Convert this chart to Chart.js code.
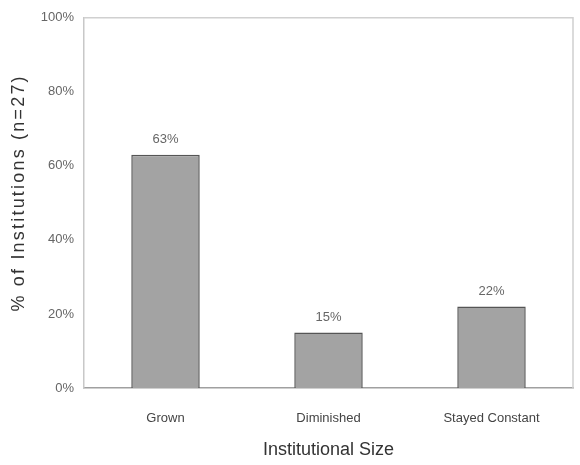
<!DOCTYPE html>
<html>
<head>
<meta charset="utf-8">
<script src="https://cdn.jsdelivr.net/npm/chart.js@4/dist/chart.umd.min.js"></script>
<style>
  html, body { margin: 0; padding: 0; background: #fff; }
  #wrap { width: 580px; height: 465px; position: relative; }
</style>
</head>
<body>
<div id="wrap"><canvas id="c" width="580" height="465"></canvas></div>
<script>
// Share of institutions by change in institutional size
const categories = ['Grown', 'Diminished', 'Stayed Constant'];
const percentValues = [63, 15, 22];
const yTicks = [0, 20, 40, 60, 80, 100];
const yTitle = '% of Institutions (n=27)';
const xTitle = 'Institutional Size';

const FONT = '"Liberation Sans", Arial, sans-serif';

// Value labels above each bar, placed from the bar elements
const valueLabels = {
  id: 'valueLabels',
  afterDatasetsDraw(chart) {
    const ctx = chart.ctx;
    const meta = chart.getDatasetMeta(0);
    ctx.save();
    ctx.font = '13px ' + FONT;
    ctx.fillStyle = '#666';
    ctx.textAlign = 'center';
    ctx.textBaseline = 'bottom';
    meta.data.forEach((bar, i) => {
      ctx.fillText(percentValues[i] + '%', bar.x, bar.y - 9);
    });
    ctx.restore();
  }
};

// Light frame around the plotting area
const plotFrame = {
  id: 'plotFrame',
  beforeDatasetsDraw(chart) {
    const { ctx, chartArea: a } = chart;
    ctx.save();
    ctx.strokeStyle = '#d0d0d0';
    ctx.lineWidth = 1.5;
    ctx.beginPath();
    ctx.moveTo(a.left, a.top);
    ctx.lineTo(a.right, a.top);
    ctx.lineTo(a.right, a.bottom);
    ctx.stroke();
    ctx.restore();
  }
};

// Widely spaced vertical axis title
const spacedYTitle = {
  id: 'spacedYTitle',
  afterDraw(chart) {
    const { ctx, chartArea: a } = chart;
    ctx.save();
    ctx.translate(19, (a.top + a.bottom) / 2 - 10);
    ctx.rotate(-Math.PI / 2);
    ctx.font = '18px ' + FONT;
    ctx.letterSpacing = '2.2px';
    ctx.fillStyle = '#333';
    ctx.textAlign = 'center';
    ctx.textBaseline = 'middle';
    ctx.fillText(yTitle, 0, 0);
    ctx.restore();
  }
};

new Chart(document.getElementById('c'), {
  type: 'bar',
  data: {
    labels: categories,
    datasets: [{
      data: percentValues,
      backgroundColor: '#a3a3a3',
      borderColor: '#555555',
      borderWidth: 1.5,
      categoryPercentage: 1,
      barPercentage: 0.42
    }]
  },
  options: {
    responsive: false,
    animation: false,
    layout: { padding: { left: 0, top: 12, right: 7, bottom: 0 } },
    plugins: { legend: { display: false }, tooltip: { enabled: false } },
    scales: {
      x: {
        grid: { display: false, drawTicks: false },
        border: { color: '#a0a0a0', width: 1.5 },
        ticks: { font: { family: FONT, size: 13 }, color: '#444', padding: 23 },
        title: {
          display: true,
          text: xTitle,
          font: { family: FONT, size: 18 },
          color: '#333',
          padding: { top: 0, bottom: 4 }
        },
        afterFit(scale) { scale.height = 77; }
      },
      y: {
        min: 0,
        max: 100,
        afterBuildTicks(scale) { scale.ticks = yTicks.map(v => ({ value: v })); },
        grid: { display: false, drawTicks: false },
        border: { color: '#c8c8c8', width: 1.5 },
        ticks: {
          font: { family: FONT, size: 13 },
          color: '#666',
          padding: 10,
          callback: v => v + '%'
        },
        title: { display: false },
        afterFit(scale) { scale.width = 84; }
      }
    }
  },
  plugins: [valueLabels, plotFrame, spacedYTitle]
});
</script>
</body>
</html>
